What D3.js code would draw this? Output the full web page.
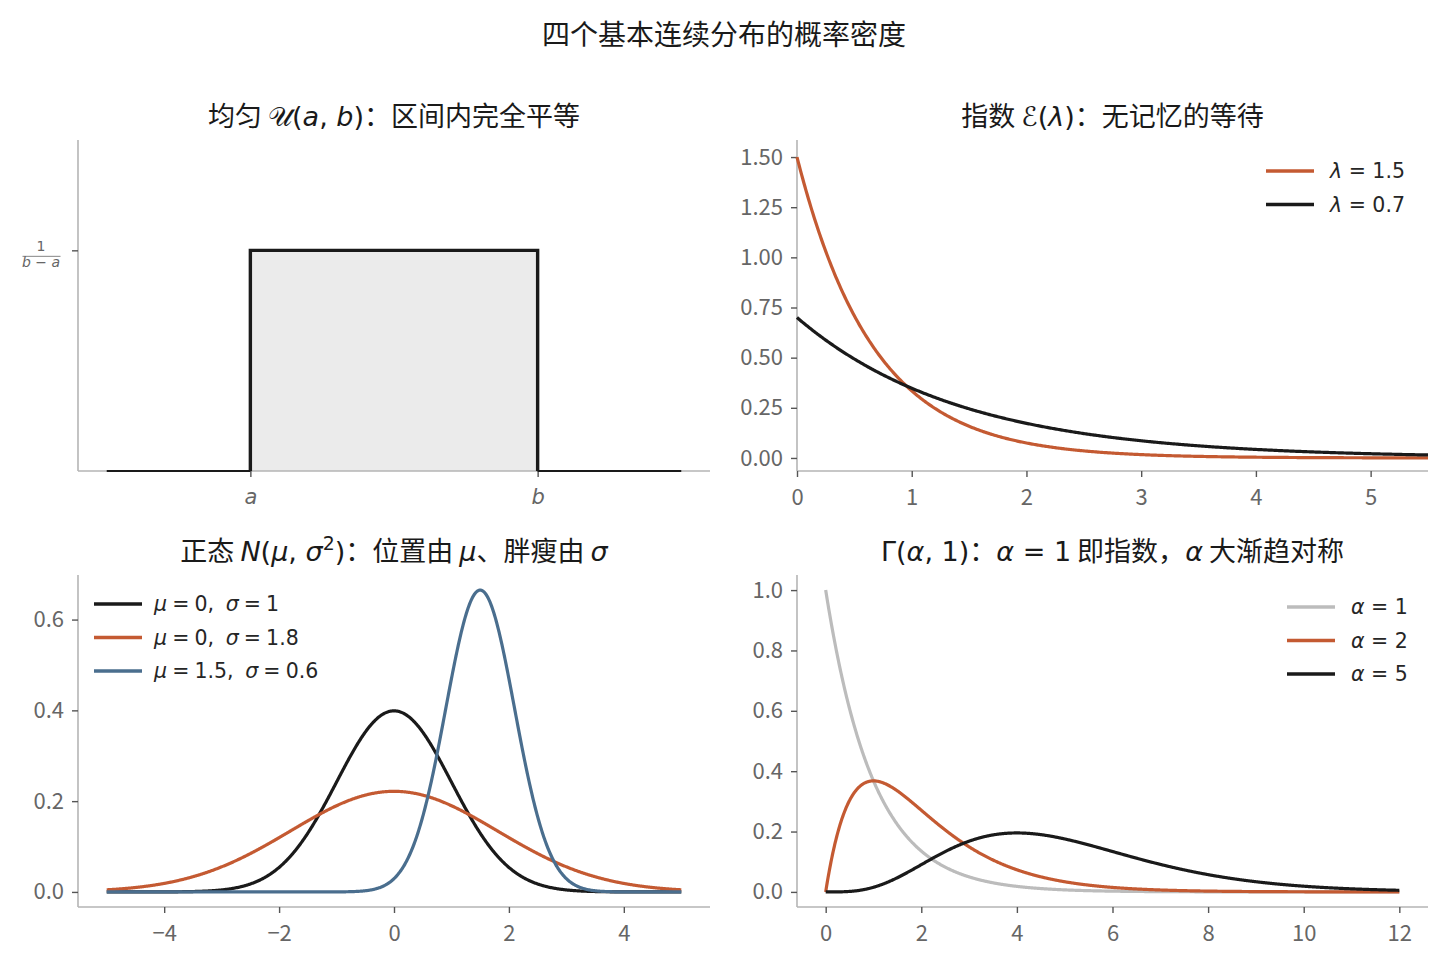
<!DOCTYPE html>
<html><head><meta charset="utf-8">
<script src="https://cdn.jsdelivr.net/npm/d3@7"></script>
<style>body{margin:0;background:#fff}svg{display:block}</style>
</head><body>
<svg id="chart" width="1448" height="966"></svg>
<script>
// ---------------- data ----------------
const uniformBounds = [0, 1];            // a, b
const uniformPlotRange = [-0.5, 1.5];    // x range of the drawn density
const uniformTickLabels = ["a", "b"];
const expRates = [1.5, 0.7];
const expRateLabels = ["1.5", "0.7"];
const expXTicks = [0, 1, 2, 3, 4, 5];
const expYTicks = [0, 0.25, 0.5, 0.75, 1.0, 1.25, 1.5];
const expXMax = 5.5;
const normalMus = [0, 0, 1.5];
const normalSigmas = [1, 1.8, 0.6];
const normalLabels = [["0", "1"], ["0", "1.8"], ["1.5", "0.6"]];
const normalXTicks = [-4, -2, 0, 2, 4];
const normalYTicks = [0, 0.2, 0.4, 0.6];
const normalRange = [-5, 5];
const gammaShapes = [1, 2, 5];
const gammaXTicks = [0, 2, 4, 6, 8, 10, 12];
const gammaYTicks = [0, 0.2, 0.4, 0.6, 0.8, 1.0];
const gammaXMax = 12;

// ---------------- style ----------------
const C_BLACK = "#1a1a1a", C_ORANGE = "#c45a32", C_BLUE = "#4a6e8e", C_GRAY = "#bcbcbc";
const expColors = [C_ORANGE, C_BLACK];
const normalColors = [C_BLACK, C_ORANGE, C_BLUE];
const gammaColors = [C_GRAY, C_ORANGE, C_BLACK];
const CJK = "'Noto Sans CJK SC', sans-serif";
const MATH = "'DejaVu Sans', sans-serif";
const TICKFONT = "'Noto Sans CJK SC', sans-serif";
const TITLE_SIZE = 27, LEG_SIZE = 20.5, TICK_SIZE = 22;
const SP = "\u2005";

const svg = d3.select("#chart");

function richText(sel, parts, size) {
  parts.forEach(p => {
    const [t, s] = p;
    const ts = sel.append("tspan").text(t);
    if (s === "c") ts.attr("font-family", CJK);
    else ts.attr("font-family", MATH);
    if (s === "i") ts.attr("font-style", "italic");
    if (s === "sup") ts.attr("font-size", size * 0.7).attr("dy", -size * 0.4);
    if (s === "unsup") ts.attr("dy", size * 0.4);
  });
}

function panel(box, xDom, yDom) {
  const g = svg.append("g");
  const x = d3.scaleLinear().domain(xDom).range([box.x0, box.x1]);
  const y = d3.scaleLinear().domain(yDom).range([box.y1, box.y0]);
  return {g, x, y, box};
}

function styleAxis(ax) {
  ax.select(".domain").attr("stroke", "#b5b5b5").attr("stroke-width", 1.6);
  ax.selectAll(".tick line").attr("stroke", "#555").attr("stroke-width", 1.4);
  ax.selectAll(".tick text").attr("fill", "#666").attr("font-family", TICKFONT).attr("font-size", TICK_SIZE);
}

function drawAxes(P, xTicks, yTicks, xFmt, yFmt) {
  const ax = P.g.append("g").attr("transform", `translate(0,${P.box.y1})`)
    .call(d3.axisBottom(P.x).tickValues(xTicks).tickFormat(xFmt).tickSize(6).tickSizeOuter(0).tickPadding(12));
  ax.select(".domain").attr("d", `M${P.box.x0},0H${P.box.x1}`);
  styleAxis(ax);
  const ay = P.g.append("g").attr("transform", `translate(${P.box.x0},0)`)
    .call(d3.axisLeft(P.y).tickValues(yTicks).tickFormat(yFmt).tickSize(6).tickSizeOuter(0).tickPadding(8));
  ay.select(".domain").attr("d", `M0,${P.box.y0}V${P.box.y1}`);
  styleAxis(ay);
  return [ax, ay];
}

function title(P, parts) {
  const t = svg.append("text").attr("x", (P.box.x0 + P.box.x1) / 2).attr("y", P.box.y0 - 14)
    .attr("text-anchor", "middle").attr("font-size", TITLE_SIZE).attr("fill", "#1a1a1a");
  richText(t, parts, TITLE_SIZE);
}

function legend(P, lx, ly, rows, colors, textOff) {
  rows.forEach((parts, i) => {
    const yy = ly + i * 33.5;
    P.g.append("line").attr("x1", lx).attr("x2", lx + 48).attr("y1", yy).attr("y2", yy)
      .attr("stroke", colors[i]).attr("stroke-width", 3.4);
    const t = P.g.append("text").attr("x", lx + textOff).attr("y", yy + 7)
      .attr("font-size", LEG_SIZE).attr("fill", "#262626");
    richText(t, parts, LEG_SIZE);
  });
}

const line = (P) => d3.line().x(d => P.x(d[0])).y(d => P.y(d[1]));

// main title
svg.append("text").attr("x", 724).attr("y", 45).attr("text-anchor", "middle")
  .attr("font-family", CJK).attr("font-size", 28).attr("fill", "#1a1a1a")
  .text("四个基本连续分布的概率密度");

// ---------------- panel 1: uniform ----------------
{
  const P = panel({x0: 78, x1: 710, y0: 140, y1: 471}, [-0.6, 1.6], [0, 1.5]);
  const [a, b] = uniformBounds;
  const h = 1 / (b - a);
  P.g.append("rect").attr("x", P.x(a)).attr("y", P.y(h)).attr("width", P.x(b) - P.x(a))
    .attr("height", P.y(0) - P.y(h)).attr("fill", "#ebebeb");
  const [ax, ay] = drawAxes(P, uniformBounds, [h], (d, i) => uniformTickLabels[i], () => "");
  P.g.append("path").attr("d", line(P)([[uniformPlotRange[0], 0], [a, 0]])).attr("stroke", C_BLACK).attr("stroke-width", 1.8).attr("fill", "none");
  P.g.append("path").attr("d", line(P)([[b, 0], [uniformPlotRange[1], 0]])).attr("stroke", C_BLACK).attr("stroke-width", 1.8).attr("fill", "none");
  P.g.append("path").attr("d", line(P)([[a, 0], [a, h], [b, h], [b, 0]])).attr("stroke", C_BLACK)
    .attr("stroke-width", 3.4).attr("fill", "none").attr("stroke-linejoin", "miter");
  ax.selectAll(".tick text").attr("font-family", MATH).attr("font-style", "italic").attr("font-size", 21);
  // fraction label 1/(b-a)
  const fx = 41, fy = P.y(h);
  P.g.append("text").attr("x", fx).attr("y", fy + 1).attr("text-anchor", "middle")
    .attr("font-family", MATH).attr("font-size", 14).attr("fill", "#666").text("1");
  P.g.append("line").attr("x1", 22.5).attr("x2", 60.5).attr("y1", fy + 6).attr("y2", fy + 6)
    .attr("stroke", "#777").attr("stroke-width", 0.9);
  const ft = P.g.append("text").attr("x", fx).attr("y", fy + 17).attr("text-anchor", "middle")
    .attr("font-family", MATH).attr("font-size", 14).attr("fill", "#666");
  ft.append("tspan").attr("font-style", "italic").text("b");
  ft.append("tspan").text(" − ");
  ft.append("tspan").attr("font-style", "italic").text("a");
  title(P, [["均匀 ", "c"], ["𝒰", "m"], ["(", "m"], ["a", "i"], [", ", "m"], ["b", "i"], [")", "m"], ["：区间内完全平等", "c"]]);
}

// ---------------- panel 2: exponential ----------------
{
  const P = panel({x0: 797, x1: 1428, y0: 140, y1: 471}, [0, expXMax], [-0.065, 1.585]);
  drawAxes(P, expXTicks, expYTicks, d3.format("d"), d3.format(".2f"));
  const xs = d3.range(0, expXMax + 1e-9, 0.01);
  expRates.forEach((lam, i) => {
    const pts = xs.map(x => [x, lam * Math.exp(-lam * x)]);
    P.g.append("path").attr("d", line(P)(pts)).attr("fill", "none")
      .attr("stroke", expColors[i]).attr("stroke-width", 3.2);
  });
  legend(P, 1266, 171, expRateLabels.map(l => [["λ", "i"], [" = " + l, "m"]]), expColors, 64);
  title(P, [["指数 ", "c"], ["ℰ", "m"], ["(", "m"], ["λ", "i"], [")", "m"], ["：无记忆的等待", "c"]]);
}

// ---------------- panel 3: normal ----------------
{
  const P = panel({x0: 78, x1: 710, y0: 575, y1: 907}, [-5.5, 5.5], [-0.0332, 0.6982]);
  drawAxes(P, normalXTicks, normalYTicks, d3.format("d"), d3.format(".1f"));
  const xs = d3.range(normalRange[0], normalRange[1] + 1e-9, 0.01);
  normalMus.forEach((mu, i) => {
    const s = normalSigmas[i];
    const pts = xs.map(x => [x, Math.exp(-0.5 * ((x - mu) / s) ** 2) / (s * Math.sqrt(2 * Math.PI))]);
    P.g.append("path").attr("d", line(P)(pts)).attr("fill", "none")
      .attr("stroke", normalColors[i]).attr("stroke-width", 3.2);
  });
  legend(P, 94, 604, normalLabels.map(l => [["μ", "i"], [SP + "=" + SP + l[0] + ", " + SP, "m"], ["σ", "i"], [SP + "=" + SP + l[1], "m"]]), normalColors, 60);
  title(P, [["正态 ", "c"], ["N", "i"], ["(", "m"], ["μ", "i"], [", ", "m"], ["σ", "i"], ["2", "sup"], [")", "unsup"],
            ["：位置由 ", "c"], ["μ", "i"], ["、胖瘦由 ", "c"], ["σ", "i"]]);
}

// ---------------- panel 4: gamma ----------------
{
  const P = panel({x0: 797, x1: 1428, y0: 575, y1: 907}, [-0.6, 12.6], [-0.05, 1.05]);
  drawAxes(P, gammaXTicks, gammaYTicks, d3.format("d"), d3.format(".1f"));
  const xs = d3.range(0, gammaXMax + 1e-9, 0.01);
  const fact = n => n <= 1 ? 1 : n * fact(n - 1);
  gammaShapes.forEach((k, i) => {
    const pts = xs.map(x => [x, (k === 1 ? 1 : Math.pow(x, k - 1)) * Math.exp(-x) / fact(k - 1)]);
    P.g.append("path").attr("d", line(P)(pts)).attr("fill", "none")
      .attr("stroke", gammaColors[i]).attr("stroke-width", 3.2);
  });
  legend(P, 1287, 607, gammaShapes.map(k => [["α", "i"], [" = " + k, "m"]]), gammaColors, 64);
  title(P, [["Γ(", "m"], ["α", "i"], [", 1)", "m"], ["：", "c"], ["α", "i"], [" = 1", "m"], [" 即指数，", "c"], ["α", "i"], [" 大渐趋对称", "c"]]);
}
</script>
</body></html>
